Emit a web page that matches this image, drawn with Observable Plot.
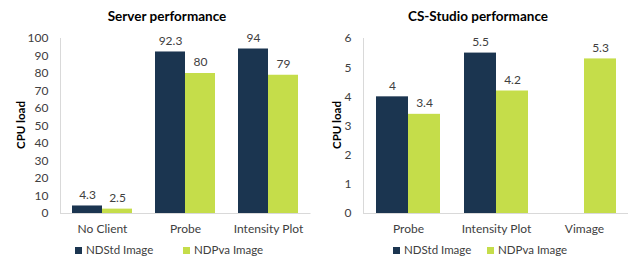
<!DOCTYPE html>
<html>
<head>
<meta charset="utf-8">
<script src="https://cdn.jsdelivr.net/npm/d3@7"></script>
<script src="https://cdn.jsdelivr.net/npm/@observablehq/plot@0.6"></script>
<style>
  html, body { margin: 0; padding: 0; background: #fff; }
  body { width: 628px; height: 258px; position: relative; overflow: hidden; font-family: Lato, "Open Sans", sans-serif; color: #404040; }
  .panel { position: absolute; top: 0; width: 314px; height: 258px; }
  .title { position: absolute; top: 8px; left: 0; width: 100%; text-align: center; font-weight: bold; font-size: 13.5px; color: #000; }
  .ylab { position: absolute; font-weight: bold; font-size: 11.5px; color: #000; transform: translate(-50%, -50%) rotate(-90deg); white-space: nowrap; }
  .legend { position: absolute; top: 243px; font-size: 11.5px; color: #404040; white-space: nowrap; }
  .legend span.sw { display: inline-block; width: 7px; height: 7px; margin-right: 4px; vertical-align: 0px; }
  .legend .item { position: absolute; top: 0; }
  svg { position: absolute; top: 0; left: 0; }
</style>
</head>
<body>
<div class="panel" id="left" style="left:0"></div>
<div class="panel" id="right" style="left:314px"></div>
<script>
const series = ["NDStd Image", "NDPva Image"];
const colors = ["#1b3550", "#c5dd4a"];

const serverCats = ["No Client", "Probe", "Intensity Plot"];
const serverNDStd = [4.3, 92.3, 94];
const serverNDPva = [2.5, 80, 79];
const serverTicks = [0, 10, 20, 30, 40, 50, 60, 70, 80, 90, 100];

const csCats = ["Probe", "Intensity Plot", "Vimage"];
const csNDStd = [4, 5.5, null];
const csNDPva = [3.4, 4.2, 5.3];
const csTicks = [0, 1, 2, 3, 4, 5, 6];

function panel(el, cfg) {
  const rows = [];
  cfg.cats.forEach((c, i) => {
    if (cfg.a[i] != null) rows.push({cat: c, s: series[0], v: cfg.a[i]});
    if (cfg.b[i] != null) rows.push({cat: c, s: series[1], v: cfg.b[i]});
  });
  const A = rows.filter(d => d.s === series[0]);
  const B = rows.filter(d => d.s === series[1]);
  const bw = cfg.bw;
  const chart = Plot.plot({
    width: 314,
    height: 258,
    marginTop: 38,
    marginBottom: 45,
    marginLeft: cfg.ml,
    marginRight: cfg.mr,
    style: {fontFamily: "Lato, 'Open Sans', sans-serif", fontSize: "12px", color: "#404040", background: "transparent"},
    x: {domain: cfg.cats, paddingInner: cfg.pi, paddingOuter: cfg.po, label: null, tickSize: 0, tickPadding: 12},
    y: {domain: cfg.ydom, label: null},
    marks: [
      Plot.frame({anchor: "left", stroke: "#d9d9d9"}),
      Plot.barY(A, {x: "cat", y: "v", fill: colors[0], insetRight: bw / 2}),
      Plot.barY(B, {x: "cat", y: "v", fill: colors[1], insetLeft: bw / 2}),
      Plot.ruleY([0], {stroke: "#d9d9d9"}),
      Plot.text(A, {x: "cat", y: "v", text: d => String(d.v), dx: -bw / 4, dy: -11, fill: "#404040", fontSize: 12}),
      Plot.text(B, {x: "cat", y: "v", text: d => String(d.v), dx: bw / 4, dy: -11, fill: "#404040", fontSize: 12}),
      Plot.axisY({ticks: cfg.ticks, tickFormat: d => String(d), tickSize: 0, tickPadding: 12, label: null, fontSize: 12, fill: "#404040"}),
      Plot.axisX({tickSize: 0, tickPadding: 11, label: null, fontSize: 12, fill: "#404040"})
    ]
  });
  el.appendChild(chart);
  const t = document.createElement("div");
  t.className = "title"; t.style.left = cfg.titleDx + "px"; t.textContent = cfg.title;
  el.appendChild(t);
  const yl = document.createElement("div");
  yl.className = "ylab"; yl.style.left = cfg.ylx + "px"; yl.style.top = "125px"; yl.textContent = "CPU load";
  el.appendChild(yl);
  const lg = document.createElement("div");
  lg.className = "legend";
  series.forEach((s, i) => {
    const it = document.createElement("div");
    it.className = "item"; it.style.left = cfg.leg[i] + "px";
    const sw = document.createElement("span"); sw.className = "sw"; sw.style.background = colors[i];
    it.appendChild(sw); it.appendChild(document.createTextNode(s));
    lg.appendChild(it);
  });
  el.appendChild(lg);
}

panel(document.getElementById("left"), {
  cats: serverCats, a: serverNDStd, b: serverNDPva, ydom: [0, 100], ticks: serverTicks,
  ml: 60, mr: 3.5, pi: 0.2814, po: 0.1407, bw: 60,
  title: "Server performance", titleDx: 10, ylx: 20, leg: [75, 183]
});
panel(document.getElementById("right"), {
  cats: csCats, a: csNDStd, b: csNDPva, ydom: [0, 6], ticks: csTicks,
  ml: 49, mr: 0, pi: 0.277, po: 0.138, bw: 64,
  title: "CS-Studio performance", titleDx: 7, ylx: 22, leg: [79, 173]
});
</script>
</body>
</html>
